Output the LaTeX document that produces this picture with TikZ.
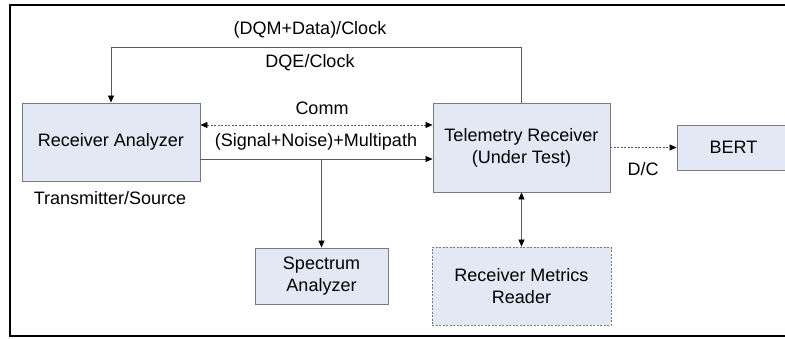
\documentclass[tikz,border=0pt]{standalone}
\usepackage{fontspec}
\setmainfont{Liberation Sans}
\usetikzlibrary{arrows.meta}
\definecolor{boxfill}{HTML}{E3E9F4}
\definecolor{boxline}{HTML}{7A7A7A}
\definecolor{wire}{HTML}{5A5A5A}
\begin{document}
\begin{tikzpicture}[x=1pt,y=-1pt,
  font=\fontsize{18}{22}\selectfont,
  >={Triangle[length=7pt,width=6pt,color=black]},
  blk/.style={draw=boxline,fill=boxfill,line width=0.9pt,align=center,inner sep=0pt},
  wr/.style={draw=wire,line width=0.8pt},
  dwr/.style={wr,dash pattern=on 2pt off 1.5pt}]
\useasboundingbox (0,0) rectangle (785,338);
\clip (0,0) rectangle (785,338);
\draw[line width=2pt] (10,5) rectangle (800,336);

\node[blk,minimum width=178pt,minimum height=78pt] (ra) at (111,142) {Receiver Analyzer};
\node[blk,minimum width=177pt,minimum height=89pt] (tr) at (521.5,147.5) {Telemetry Receiver\\(Under Test)};
\node[blk,minimum width=113pt,minimum height=45pt] (bert) at (733.5,147.5) {BERT};
\node[blk,minimum width=133pt,minimum height=56pt] (sa) at (321.5,276) {Spectrum\\Analyzer};
\node[blk,dash pattern=on 2pt off 1.5pt,minimum width=179pt,minimum height=78pt] (rmr) at (521.5,286) {Receiver Metrics\\Reader};

\node (dqm) at (310,30) {(DQM+Data)/Clock};
\node (dqe) at (310,63) {DQE/Clock};
\node (comm) at (322,108) {Comm};
\node (sn) at (316,142) {(Signal+Noise)+Multipath};
\node (src) at (110,198) {Transmitter/Source};
\node (dc) at (643,169) {D/C};

\coordinate (loop) at (111,47);
\coordinate (cm) at ([yshift=17pt]ra.east);
\coordinate (sig) at ([yshift=-17pt]ra.east);

\draw[wr,->] (tr.north) |- (loop) -- (ra.north);
\draw[dwr,<->] (cm) -- (cm -| tr.west);
\draw[wr,->] (sig) -- (sig -| tr.west);
\draw[wr,->] (sa.north |- sig) -- (sa.north);
\draw[dwr,->] (tr.east) -- (bert.west);
\draw[wr,<->] (tr.south) -- (rmr.north);
\end{tikzpicture}
\end{document}
